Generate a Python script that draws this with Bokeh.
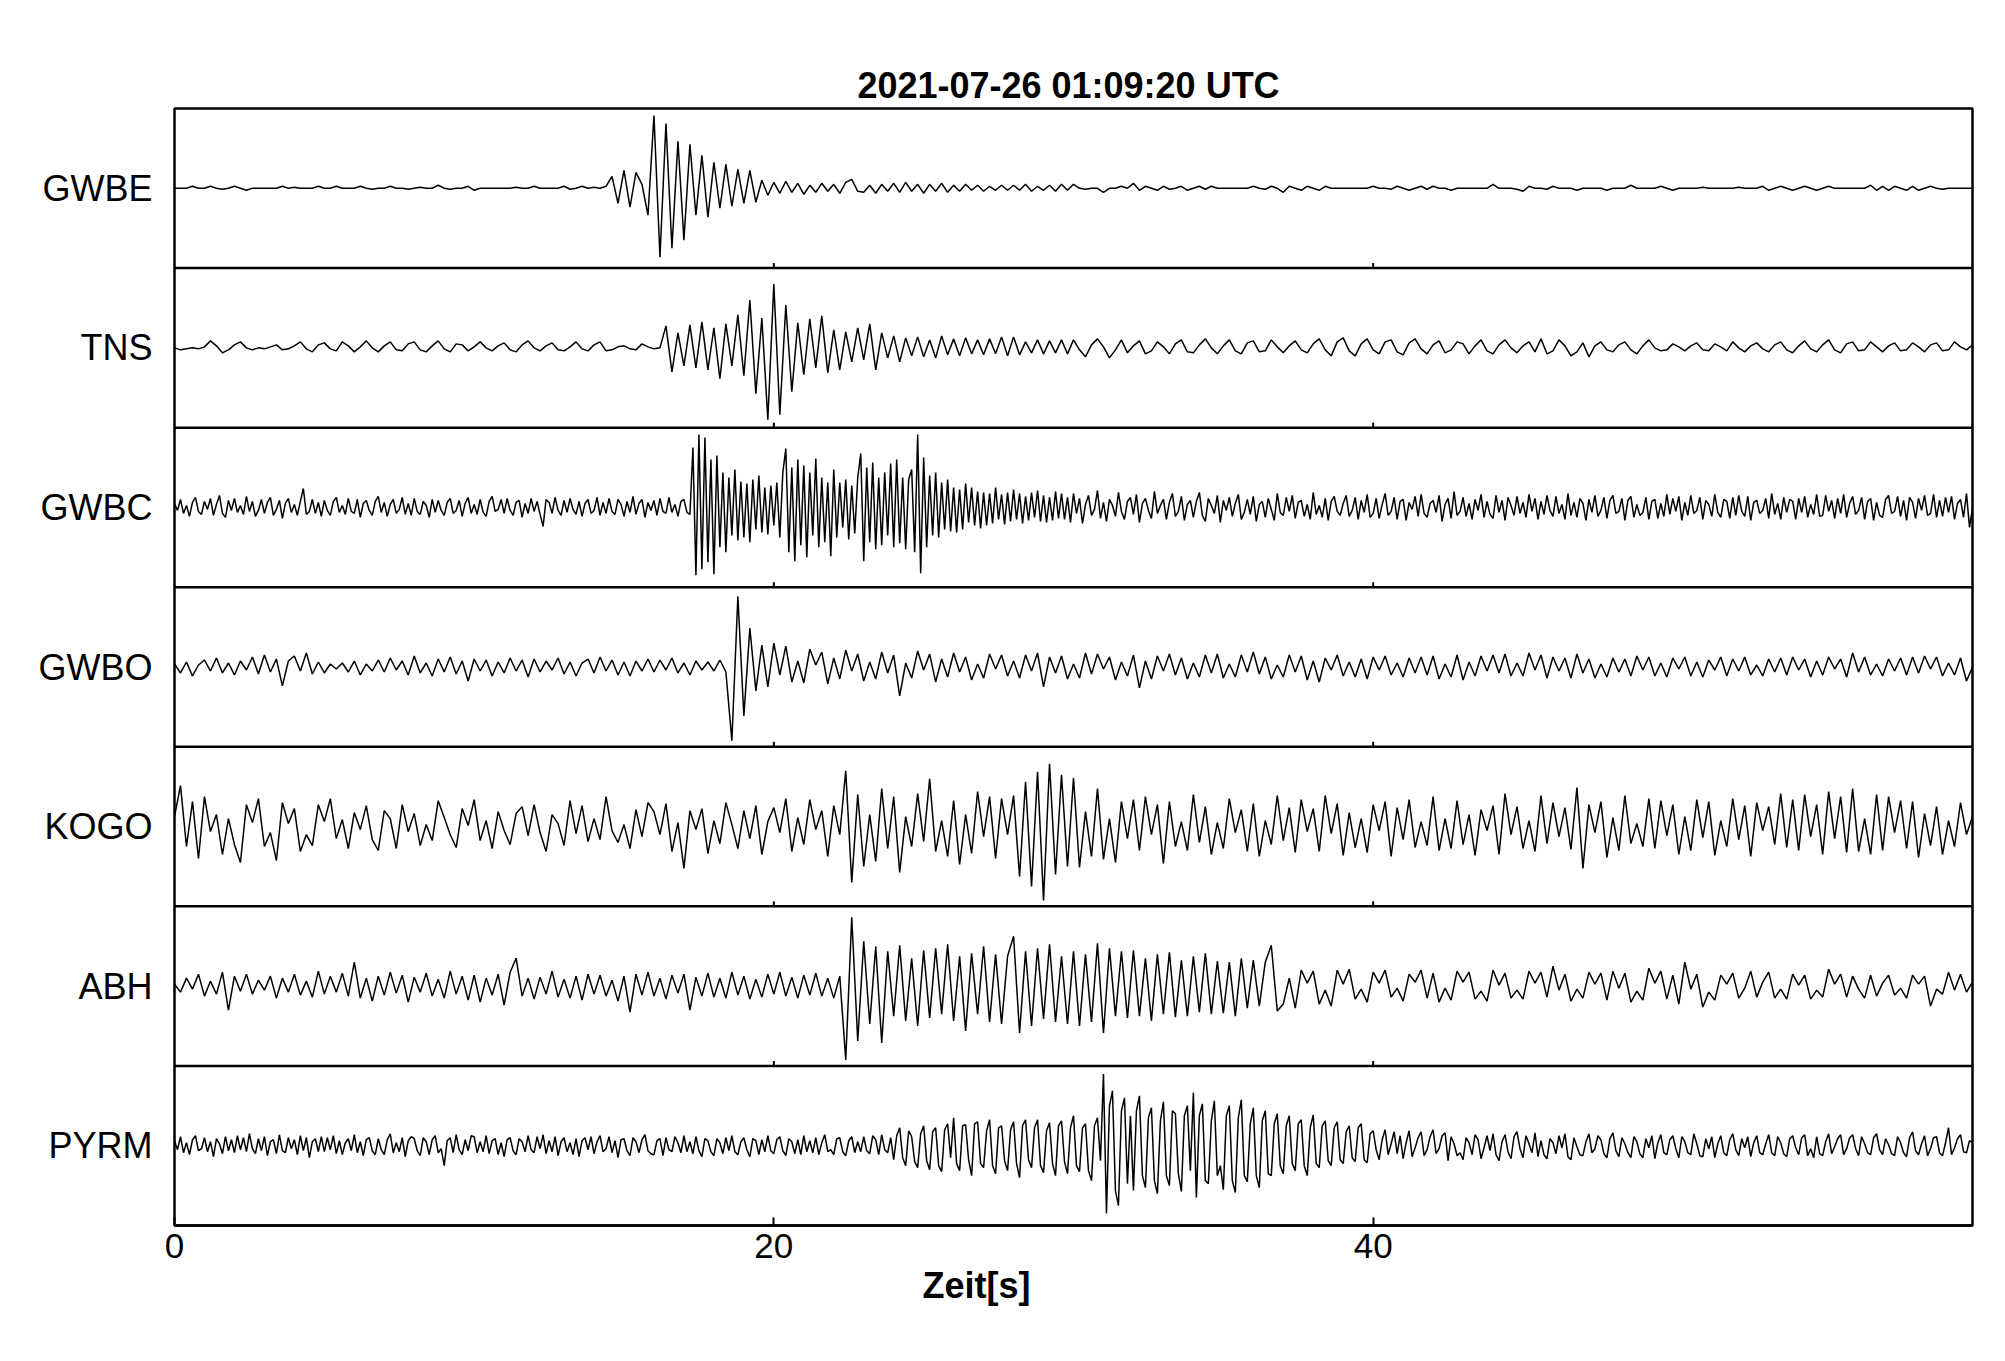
import numpy as np
from bokeh.plotting import figure
from bokeh.models import FixedTicker, Span, Title
from bokeh.embed import file_html
from bokeh.resources import INLINE

TITLE = "2021-07-26  01:09:20 UTC"
XLABEL = "Zeit[s]"
STATIONS = ["GWBE", "TNS", "GWBC", "GWBO", "KOGO", "ABH", "PYRM"]
X_TICKS = [0, 20, 40]
T_END = 60.0
# sample interval [s] per trace
DTS = [0.2, 0.2, 0.1, 0.2, 0.2, 0.2, 0.1]
COUNTS_PER_PANEL = 160.0  # amplitude counts spanning one panel height

# Hand-read trace amplitudes (counts)
GWBE = [  # 0.2 s samples, 2 s per line
    0, 0, 0, 2, 0, 0, 2, 0, -1, 0,
    2, 0, -2, 0, 0, 0, 0, 0, 2, 0,
    1, 0, 0, 0, 2, 0, 0, 2, 0, 0,
    0, 2, 0, -1, 0, 0, 2, 0, 0, -1,
    0, 1, 0, 0, 3, 0, -1, 0, 0, 2,
    -2, 0, 0, 0, 0, 0, 0, 1, 0, 0,
    2, 0, 0, 0, 0, 2, -1, 0, 2, 0,
    1, 0, 2, 12, -15, 18, -19, 16, 4, -27,
    73, -69, 65, -60, 47, -52, 44, -27, 33, -29,
    26, -20, 24, -18, 19, -15, 18, -14, 8, -7,
    6, -5, 7, -4, 5, -6, 3, -4, 5, -3,
    4, -5, 6, 9, -3, -4, 3, -5, 4, -3,
    5, -4, 6, -3, 4, -5, 4, -3, 5, -4,
    3, -3, 4, -2, 3, -3, 2, -2, 3, -2,
    3, -2, 4, -3, 2, -2, 3, -3, 4, -2,
    4, 0, -1, 0, 0, -4, 0, 0, 2, 0,
    5, -2, 2, 0, -2, 2, -1, 0, 2, -2,
    0, 2, -1, 2, 0, 0, 0, 0, 0, 0,
    2, 0, -1, 2, 0, -4, 2, 0, -2, 2,
    0, -2, 2, 0, 0, 0, 0, 0, 0, 0,
    2, 0, 0, -1, 2, 0, -2, 0, 2, -1,
    2, 0, 0, -2, 0, 0, 0, 0, 0, 0,
    4, 0, 0, 0, -1, -3, 2, 0, 0, -1,
    2, 0, 0, 0, -2, 0, 0, 0, 0, -2,
    0, 0, 0, 3, 0, 0, 0, 0, 2, 0,
    -2, 0, 0, 0, 0, 1, 0, 0, 0, 0,
    0, 1, 0, 0, 0, 2, -2, 0, 2, 0,
    -2, 0, 2, 0, -2, 0, 2, 0, 0, 0,
    0, 0, 0, 3, -2, 2, -2, 2, 0, -2,
    2, -2, 0, 2, 0, -1, 0, 0, 0, 0,
    0,
]

TNS = [  # 0.2 s samples, 2 s per line
    0, -2, -1, 0, -1, 1, 7, 2, -5, -2,
    3, 6, 0, -2, 0, -1, 1, 3, -2, -1,
    2, 6, -1, -4, 3, 5, -1, -3, 6, 2,
    -4, 1, 7, 0, -4, 2, 6, -2, -3, 4,
    6, -2, -4, 2, 7, -1, -4, 4, 3, -3,
    1, 6, 0, -3, 2, 5, -2, -4, 3, 7,
    0, -3, 2, 5, -2, -3, 1, 6, -1, -3,
    3, 6, -3, -2, 1, 2, -1, -2, 4, 1,
    -1, 0, 22, -24, 15, -18, 23, -20, 26, -22,
    20, -31, 24, -18, 33, -28, 48, -46, 30, -72,
    64, -67, 43, -44, 25, -27, 29, -20, 32, -25,
    18, -22, 16, -14, 20, -12, 24, -22, 15, -10,
    12, -14, 10, -8, 11, -9, 8, -10, 12, -7,
    9, -8, 10, -6, 8, -7, 9, -6, 11, -8,
    11, -7, 6, -5, 8, -6, 7, -5, 8, -6,
    8, -2, -9, 3, 9, 1, -10, -2, 8, -5,
    2, 7, -6, -3, 6, 1, -6, 4, 8, -4,
    -5, 3, 9, 0, -6, 2, 8, -3, -6, 5,
    7, -4, -3, 8, 1, -5, 2, 7, -2, -5,
    4, 9, -2, -8, 6, 10, -3, -8, 4, 9,
    -2, -6, 6, 8, -4, -7, 5, 9, -1, -6,
    3, 7, -5, -2, 6, 4, -6, 2, 8, -3,
    -6, 3, 8, 0, -5, 2, 6, -4, 9, -6,
    -3, 8, 2, -8, -4, 5, -9, 2, 6, -2,
    -4, 3, 6, -2, -6, 2, 8, 0, -3, -2,
    4, 1, -3, 2, 5, -2, -3, 4, 1, -3,
    6, 0, -4, 2, 5, -1, -4, 3, 6, -2,
    -5, 2, 7, -1, -4, 3, 8, -2, -5, 4,
    6, -3, -2, 6, 1, -4, 2, 5, -3, -2,
    5, 1, -4, 3, 5, -3, -2, 6, 1, -2,
    3,
]

GWBC = [  # 0.1 s samples, 1 s per line
    4, -3, 8, -6, 2, -9, 5, 10, -4, -7,
    6, -2, 9, -8, 3, 12, -6, -10, 7, -3,
    9, -5, 2, -7, 11, -4, 6, -9, -3, 8,
    -6, 5, 10, -8, -2, 7, -11, 4, 9, -5,
    3, -8, 6, 19, -7, -4, 8, -6, 5, -9,
    7, -3, -8, 6, 10, -5, 2, -7, 9, -4,
    -6, 8, -10, 4, 7, -3, -8, 6, 11, -5,
    5, -9, 3, 8, -6, -2, 10, -7, 4, -8,
    9, -4, -7, 6, 2, -10, 8, -5, 7, -3,
    -8, 5, 9, -6, -3, 7, -9, 4, 10, -6,
    3, -7, 8, -5, -9, 6, 11, -4, -2, 8,
    -6, 9, -3, -8, 5, 7, -10, 4, -6, 9,
    -4, 6, -7, -19, 8, 5, -6, 10, -3, -8,
    7, -5, 9, -2, -7, 6, -9, 4, 8, -6,
    -3, 10, -8, 5, -6, 9, -4, -7, 8, 3,
    -9, 6, -5, 11, -7, 4, 8, -10, 5, -3,
    7, -8, 9, -4, -6, 10, -5, 3, -9, 6,
    8, -5, -7, 60, -68, 73, -62, 70, -55, 48,
    -67, 52, -40, 35, -45, 30, -28, 38, -33, 26,
    -30, 24, -35, 28, -22, 32, -25, 20, -27, 22,
    -18, 25, -30, 35, 59, -45, 40, -54, 48, -38,
    42, -50, 35, -28, 49, -40, 30, -35, 25, -49,
    38, -30, 25, -20, 28, -32, 22, -26, 30, 54,
    -54, 40, -35, 45, -42, 30, -38, 35, -28, 44,
    -40, 48, -36, 30, -42, 28, 38, -45, 73, -66,
    50, -40, 32, -28, 35, -30, 25, -22, 28, -24,
    20, -25, 18, -22, 24, -15, 20, -18, 16, -21,
    15, -18, 14, -16, 20, -12, 13, -17, 15, -14,
    18, -12, 14, -16, 11, -13, 15, -10, 17, -14,
    12, -15, 10, -13, 16, -11, 14, -12, 10, -15,
    14, -6, 9, -16, 3, 12, -8, -2, 17, -11,
    5, -14, 8, 2, -9, 15, -4, -12, 6, 10,
    -7, 13, -15, 4, 9, -3, -11, 16, -6, 2,
    8, -12, 5, 14, -9, -4, 11, -13, 3, 7,
    -10, 6, 15, -8, -14, 9, 2, -6, 12, -15,
    7, -3, 10, -9, 4, 13, -12, -5, 8, -7,
    11, -14, 3, 6, -10, 9, -2, -13, 14, -5,
    -8, 10, -4, 12, -11, 5, 7, -9, 3, -12,
    15, -7, 2, -10, 9, -13, 6, 11, -4, -8,
    4, 12, -9, -3, 10, -12, 7, -5, 13, -10,
    -6, 9, -11, 3, 14, -8, -4, 10, -12, 6,
    8, -13, 5, -2, 11, -9, 13, -6, -10, 4,
    7, -5, 12, -14, 3, 9, -11, 16, -8, -4,
    10, -9, 4, -12, 8, -3, 13, -10, 6, -7,
    -11, 12, -5, 7, -13, 10, 2, -8, 11, -6,
    5, -10, 13, -4, 9, -12, 6, -7, 12, -3,
    -9, 11, -6, 3, -12, 14, -8, 5, -10, 9,
    4, -13, 8, -5, 12, -9, -3, 10, -11, 7,
    12, -6, -4, 9, -13, 7, 11, -10, 3, -8,
    -5, 10, -12, 6, 8, -11, 4, -9, 13, -7,
    9, -4, 11, -13, 5, -8, 12, -6, -3, 10,
    -12, 7, 3, -9, 13, -5, -10, 8, 6, -11,
    10, -8, 12, -4, -9, 11, -13, 5, 7, -6,
    -3, 9, -11, 14, -7, 4, -12, 10, -5, 8,
    6, -12, 9, -5, 11, -10, 3, -7, 13, -9,
    -8, 12, -4, 7, -11, 9, -6, 13, -10, 4,
    11, -7, -3, 10, -12, 6, 9, -13, 5, -8,
    -10, 8, 12, -6, -4, 11, -9, 7, -13, 10,
    5, -11, 9, -3, 12, -8, -6, 13, -10, 7,
    -9, 10, -5, 11, -12, 4, 8, -10, 14, -20,
    0,
]

GWBO = [  # 0.2 s samples, 2 s per line
    3, -6, 5, -9, 2, 7, -4, 9, -6, 4,
    -8, 6, -3, 10, -7, 12, -5, 8, -19, 6,
    11, -4, 14, -7, 5, -6, 3, -2, 4, -5,
    6, -8, 3, -4, 7, -5, 9, -3, 6, -8,
    11, -6, 4, -9, 8, -5, 10, -7, 6, -14,
    8, -4, 7, -9, 5, -6, 9, -4, 7, -10,
    8, -5, 6, -3, 9, -7, 5, -9, 4, 8,
    -6, 10, -4, 7, -8, 5, -9, 6, -4, 8,
    -5, 7, -3, 9, -6, 4, -8, 6, -3, 5,
    -4, 7, -5, -74, 71, -49, 39, -24, 22, -20,
    24, -8, 21, -15, 6, -16, 18, 2, 15, -17,
    9, -12, 17, -4, 13, -14, 5, -12, 15, -6,
    12, -29, 4, -11, 16, -3, 13, -15, 8, -10,
    14, -5, 10, -13, 3, -11, 13, -2, 12, -9,
    6, -11, 12, -4, 14, -20, 10, -6, 11, -12,
    3, -11, 14, -7, 13, -2, 10, -13, 5, -9,
    12, -21, 6, -12, 11, -4, 13, -8, 9, -12,
    4, -10, 12, -6, 13, -11, 3, -10, 12, -5,
    15, -7, 10, -12, 2, -10, 12, -5, 11, -13,
    6, -15, 9, -3, 12, -9, 5, -10, 8, -12,
    10, -3, 11, -8, 4, -10, 9, -6, 10, -8,
    11, -12, 3, -10, 12, -13, 5, -9, 11, -4,
    12, -6, 13, -9, 4, -9, 14, -3, 12, -11,
    10, -4, 9, -11, 13, -6, 8, -11, 3, -10,
    9, -5, 8, -9, 11, -3, 10, -9, 4, -10,
    9, -2, 10, -9, 5, -10, 7, -3, 10, -9,
    8, -4, 10, -8, 2, -9, 8, -5, 9, -8,
    10, -3, 8, -10, 6, -8, 10, -2, 8, -10,
    14, -5, 10, -8, 3, -9, 8, -4, 9, -8,
    10, -6, 11, -2, 10, -9, 4, -8, 9, -14,
    0,
]

KOGO = [  # 0.2 s samples, 2 s per line
    10, 41, -20, 25, -32, 30, -5, 12, -28, 8,
    -18, -36, 22, 4, 28, -20, -6, -34, 24, 3,
    18, -25, -8, -19, 22, 5, 28, -12, 7, -22,
    14, -3, 21, -13, -24, 16, 8, -22, 22, -5,
    13, -19, 2, -14, 26, 9, -8, -21, 18, 1,
    27, -14, 6, -22, 15, -4, -18, 13, 20, -9,
    22, -6, -25, 12, 3, -19, 26, -7, 21, -15,
    8, -13, 30, -4, -16, 2, -22, 17, -10, 24,
    15, -8, 23, -25, 4, -42, 16, -3, 18, -27,
    6, -17, 24, 2, -22, 16, -12, 21, -28, 5,
    19, -6, 28, -25, 9, -18, 27, -3, 16, -30,
    21, -8, 56, -56, 32, -40, 12, -35, 38, -22,
    30, -46, 10, -20, 33, -15, 48, -25, 6, -30,
    26, -38, 12, -27, 35, -10, 30, -32, 28, -8,
    31, -50, 45, -60, 55, -74, 63, -48, 52, -40,
    49, -41, 15, -30, 38, -33, 8, -36, 25, -12,
    27, -24, 30, -8, 22, -37, 25, -20, 5, -24,
    32, -16, 20, -28, 4, -22, 28, -6, 17, -25,
    23, -30, 6, -18, 31, -14, 19, -26, 27, -5,
    18, -25, 31, -7, 23, -29, 14, -21, 8, -26,
    22, -4, 25, -30, 19, -13, 27, -21, 5, -19,
    30, -24, 8, -22, 26, -18, 12, -29, 17, -4,
    21, -28, 33, -8, 20, -22, 6, -25, 31, -17,
    24, -10, 19, -23, 39, -42, 22, -6, 25, -31,
    9, -24, 31, -17, 3, -20, 28, -22, 26, -9,
    22, -28, 10, -24, 27, -11, 25, -29, 6, -20,
    28, -13, 21, -30, 24, -4, 20, -18, 33, -21,
    27, -24, 32, -10, 22, -28, 35, -12, 30, -26,
    38, -25, 8, -28, 32, -24, 30, -6, 26, -22,
    25, -31, 13, -19, 20, -28, 6, -20, 24, -8,
    10,
]

ABH = [  # 0.2 s samples, 2 s per line
    2, -6, 8, -3, 12, -10, 5, -8, 14, -24,
    10, -5, 12, -8, 6, -4, 10, -12, 8, -6,
    12, -9, 5, -11, 15, -8, 10, -6, 13, -10,
    24, -12, 8, -15, 10, -9, 14, -7, 11, -16,
    9, -6, 13, -10, 7, -12, 15, -8, 10, -14,
    11, -16, 8, -9, 12, -19, 14, 28, -10, 8,
    -13, 9, -8, 15, -11, 7, -12, 10, -14, 12,
    -8, 11, -10, 6, -15, 10, -26, 12, -9, 14,
    -10, 8, -13, 11, -7, 12, -24, 9, -10, 13,
    -11, 8, -12, 14, -9, 10, -13, 7, -11, 12,
    -8, 14, -10, 9, -12, 11, -9, 13, -10, 8,
    -12, 10, -74, 69, -55, 45, -38, 40, -57, 35,
    -30, 41, -35, 28, -40, 36, -32, 38, -28, 42,
    -35, 30, -45, 33, -28, 40, -36, 32, -38, 30,
    50, -47, 35, -40, 38, -33, 42, -36, 30, -38,
    35, -40, 32, -36, 43, -47, 38, -30, 35, -32,
    36, -30, 28, -35, 32, -28, 34, -31, 26, -30,
    30, -26, 33, -28, 25, -27, 24, -30, 28, -22,
    26, -20, 24, 41, -25, -18, 8, -22, 16, 3,
    15, -18, -4, -20, 16, 2, 17, -13, -3, -16,
    14, 3, 16, -11, -2, -15, 12, 4, 16, -12,
    13, -16, -2, -14, 15, 4, 14, -13, -5, -15,
    16, 1, 13, -12, -4, -13, 15, 3, 14, -11,
    20, -4, 12, -15, -3, -12, 14, 2, 13, -14,
    15, -2, 13, -16, -5, -14, 18, 3, 15, -13,
    11, -18, 24, -3, 12, -21, -6, -14, 11, 2,
    13, -12, -2, 15, -11, 4, 14, -12, -3, -13,
    12, 1, 11, -13, -4, -11, 17, 2, 12, -11,
    10, -3, -12, 11, -10, 3, 11, -9, -2, -12,
    11, 2, 10, -20, -3, -8, 14, -4, 12, -6,
    4,
]

PYRM = [  # 0.1 s samples, 1 s per line
    5, -4, 9, -7, 3, -9, 6, 10, -5, -3,
    8, -6, 4, -11, 7, 2, -8, 9, -5, 6,
    -7, 10, -4, 8, -6, 12, -3, -8, 7, -5,
    9, -10, 4, 6, -8, 11, -5, -7, 8, -3,
    6, -9, 10, -5, 8, -12, 4, 7, -6, 9,
    -6, 8, -4, 10, -8, 5, -9, 3, 7, -5,
    11, -7, 4, -10, 6, 8, -5, -9, 7, -4,
    -9, 6, 12, -7, 3, -6, 8, -11, 5, 9,
    7, -5, -10, 8, 4, -9, 6, 10, -7, -3,
    -20, 5, 8, -7, 11, -4, -9, 6, -5, 10,
    9, -7, 4, -6, 10, -8, 5, 7, -9, 3,
    -11, 6, 8, -5, -9, 7, 4, -6, 10, -4,
    -7, 9, -3, 11, -8, 5, -6, 9, -10, 4,
    8, -6, 3, -9, 7, -11, 5, 8, -4, 9,
    -8, 4, 10, -6, -3, 9, -7, 5, -12, 6,
    7, -5, -10, 8, 4, -7, 6, 11, -5, -8,
    -9, 5, 7, -10, 8, -4, -6, 9, 3, -7,
    10, -6, 4, -8, 9, -5, -11, 7, 5, -6,
    -10, 7, 3, -8, 8, -5, 10, -6, -9, 4,
    8, -4, -11, 7, 5, -9, 6, -6, 10, -5,
    -8, 6, 9, -5, -10, 7, 4, -8, 6, -9,
    10, -6, 5, -7, 8, -9, 3, 11, -6, -4,
    -9, 7, 8, -6, -10, 5, 9, -7, 4, -6,
    9, -5, -8, 10, 6, -9, 11, -4, -7, 8,
    -14, 10, 18, -12, -20, 15, 9, -16, -22, 12,
    20, -15, -24, 14, 18, -20, -26, 16, 22, -12,
    28, -18, -25, 20, 21, -14, -30, 22, 24, -18,
    -22, 15, 26, -20, -28, 18, 20, -15, -25, 16,
    24, -18, -32, 20, 26, -14, -22, 18, 26, -20,
    -27, 15, 23, -18, -30, 20, 25, -16, -28, 18,
    30, -20, -26, 18, 22, -25, -35, 20, 28, -15,
    72, -68, 40, 55, -45, -60, 35, 48, -38, 30,
    -45, 35, 50, -30, -42, 28, 38, -35, -48, 25,
    44, -30, -40, 35, 32, -28, -46, 30, 40, -25,
    53, -52, 30, 42, -35, -38, 25, 45, -30, -20,
    -44, 30, 40, -35, -47, 28, 46, -30, -36, 22,
    38, -30, -42, 25, 35, -28, -30, 22, 32, -20,
    -28, 20, 30, -18, -25, 22, 26, -20, -30, 18,
    31, -18, -22, 20, 25, -15, -20, 18, 24, -14,
    -18, 14, 20, -12, -16, 18, 22, -14, -17, 12,
    15, -4, -14, 6, 16, -9, 2, 14, -8, 10,
    -13, 3, 15, -11, -2, 8, 14, -10, -4, 9,
    16, -8, -3, 10, 13, -15, 9, 2, -10, -7,
    -14, 8, 3, -9, 11, 6, -13, -2, 10, -5,
    12, -9, -15, 4, 11, -6, -13, 9, 14, -3,
    -12, 10, 2, -7, 13, -11, 5, -9, -13, 7,
    3, -8, 10, -2, 12, -11, -14, 8, -1, -9,
    -10, 4, 12, -7, -3, 10, 6, -8, -12, 7,
    13, -5, -11, 8, 2, -7, -12, 9, 4, -8,
    -12, 7, -2, 10, -13, 3, 11, -7, -9, 6,
    10, -3, -12, 9, 4, -7, -9, 12, 2, -10,
    -11, 7, -3, 9, -12, 2, 10, -7, -10, 6,
    12, -4, -10, 7, -2, 9, -11, 3, 10, -7,
    -9, 2, 11, -7, -10, 9, 3, -8, -11, 7,
    10, -2, -9, 8, 11, -10, -3, -12, 9, -8,
    -10, 4, 12, -8, -1, 7, 11, -9, -3, 8,
    11, -3, -10, 9, 2, -7, -9, 8, 12, -4,
    -9, 7, 1, -8, -10, 9, 3, -7, -11, 8,
    14, -5, -9, 2, 10, -10, -3, 8, 9, -7,
    -10, 3, 18, -9, -2, 7, 11, -6, -7, 5,
    3,
]

TRACES = [GWBE, TNS, GWBC, GWBO, KOGO, ABH, PYRM]

FONT = "Liberation Sans"
n = len(STATIONS)

p = figure(
    width=1997, height=1340,
    x_range=(0, T_END), y_range=(0, n),
    output_backend="svg", toolbar_location=None,
    min_border_left=174, min_border_right=25,
    min_border_top=108, min_border_bottom=115,
)
p.background_fill_color = "white"
p.border_fill_color = "white"
p.outline_line_color = "black"
p.outline_line_width = 2.5
p.xgrid.grid_line_color = None
p.ygrid.grid_line_color = None

# title
p.title.text = TITLE
p.title.align = "center"
p.title.text_font = FONT
p.title.text_font_size = "36px"
p.title.text_font_style = "bold"
p.title.text_color = "black"
p.title.standoff = 6

# x axis
p.xaxis.ticker = FixedTicker(ticks=X_TICKS)
p.xaxis.major_tick_in = 8
p.xaxis.major_tick_out = 0
p.xaxis.major_tick_line_width = 2
p.xaxis.minor_tick_line_color = None
p.xaxis.axis_line_width = 2.5
p.xaxis.major_label_text_font = FONT
p.xaxis.major_label_text_font_size = "35px"
p.xaxis.major_label_text_color = "black"
p.xaxis.major_label_standoff = 8

# x label, placed as in the original (left of centre)
p.add_layout(Title(text=XLABEL, align="left", offset=748, text_font=FONT,
                   text_font_size="36px", text_font_style="bold",
                   text_color="black", standoff=4), "below")

# y axis with station names at panel centres
centers = [n - i - 0.5 for i in range(n)]
p.yaxis.ticker = FixedTicker(ticks=centers)
p.yaxis.major_label_overrides = {c: s for c, s in zip(centers, STATIONS)}
p.yaxis.axis_line_color = None
p.yaxis.major_tick_line_color = None
p.yaxis.minor_tick_line_color = None
p.yaxis.major_label_text_font = FONT
p.yaxis.major_label_text_font_size = "36px"
p.yaxis.major_label_text_color = "black"
p.yaxis.major_label_standoff = 16

# panel separators and their small tick marks
for k in range(1, n):
    p.add_layout(Span(location=k, dimension="width", line_color="black", line_width=2.5))
tick_len = 5.0 / 159.6
tx, ty0, ty1 = [], [], []
for k in range(1, n):
    for xt in X_TICKS[1:]:
        tx.append(xt)
        ty0.append(k)
        ty1.append(k + tick_len)
p.segment(x0=tx, y0=ty0, x1=tx, y1=ty1, line_color="black", line_width=2)

# traces
for c, vals, dt in zip(centers, TRACES, DTS):
    v = np.asarray(vals, dtype=float)
    t = np.arange(len(v)) * dt
    p.line(t, c + v / COUNTS_PER_PANEL, line_color="black", line_width=1.5)

open("out.html", "w").write(file_html(p, INLINE))
